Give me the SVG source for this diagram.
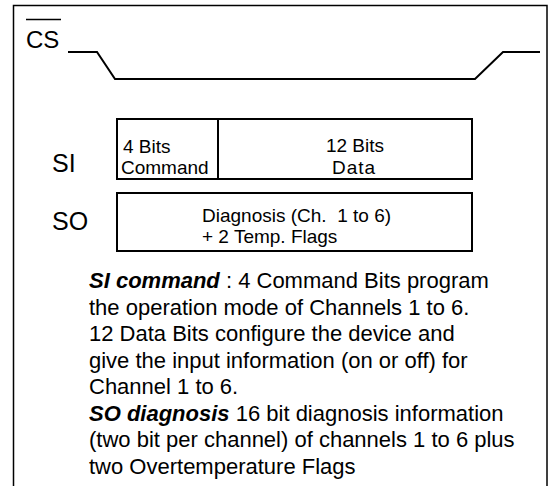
<svg xmlns="http://www.w3.org/2000/svg" width="551" height="486" viewBox="0 0 551 486">
<style>
text{font-family:"Liberation Sans",Arial,sans-serif;fill:#000}
.frame{fill:none;stroke:#000;stroke-width:1.5}
.box{fill:#fff;stroke:#000;stroke-width:2}
.wave{fill:none;stroke:#000;stroke-width:2}
.lbl{font-size:25px}
.cell{font-size:19px}
.para{font-size:22px}
.bi{font-weight:bold;font-style:italic}
</style>
<rect width="551" height="486" fill="#fff"/>
<rect class="frame" x="13.5" y="5.5" width="533.5" height="500"/>
<g id="cs">
<text x="26" y="48" style="font-size:24px">CS</text>
<line x1="26" y1="19.5" x2="61" y2="19.5" stroke="#000" stroke-width="1.5"/>
</g>
<g id="connectors">
<polyline class="wave" points="68,52 97,52 115,79 475,79 503,52 540,52"/>
</g>
<g id="si">
<text class="lbl" x="52" y="172">SI</text>
<rect class="box" x="117" y="119" width="355" height="60"/>
<line x1="218" y1="119" x2="218" y2="179" stroke="#000" stroke-width="2"/>
<text class="cell" x="123" y="153">4 Bits</text>
<text class="cell" x="121" y="174">Command</text>
<text class="cell" x="355" y="152" text-anchor="middle">12 Bits</text>
<text class="cell" x="354" y="174" text-anchor="middle" letter-spacing="1">Data</text>
</g>
<g id="so">
<text class="lbl" x="52" y="230">SO</text>
<rect class="box" x="117" y="193" width="355" height="58"/>
<text class="cell" x="202" y="222" xml:space="preserve">Diagnosis (Ch.  1 to 6)</text>
<text class="cell" x="202" y="243">+ 2 Temp. Flags</text>
</g>
<g id="description" class="para">
<text x="89" y="288"><tspan class="bi">SI command</tspan> : 4 Command Bits program</text>
<text x="89" y="314.5">the operation mode of Channels 1 to 6.</text>
<text x="89" y="341">12 Data Bits configure the device and</text>
<text x="89" y="367.5">give the input information (on or off) for</text>
<text x="89" y="394">Channel 1 to 6.</text>
<text x="89" y="420.5"><tspan class="bi">SO diagnosis</tspan> 16 bit diagnosis information</text>
<text x="89" y="447">(two bit per channel) of channels 1 to 6 plus</text>
<text x="89" y="473.5">two Overtemperature Flags</text>
</g>
</svg>
